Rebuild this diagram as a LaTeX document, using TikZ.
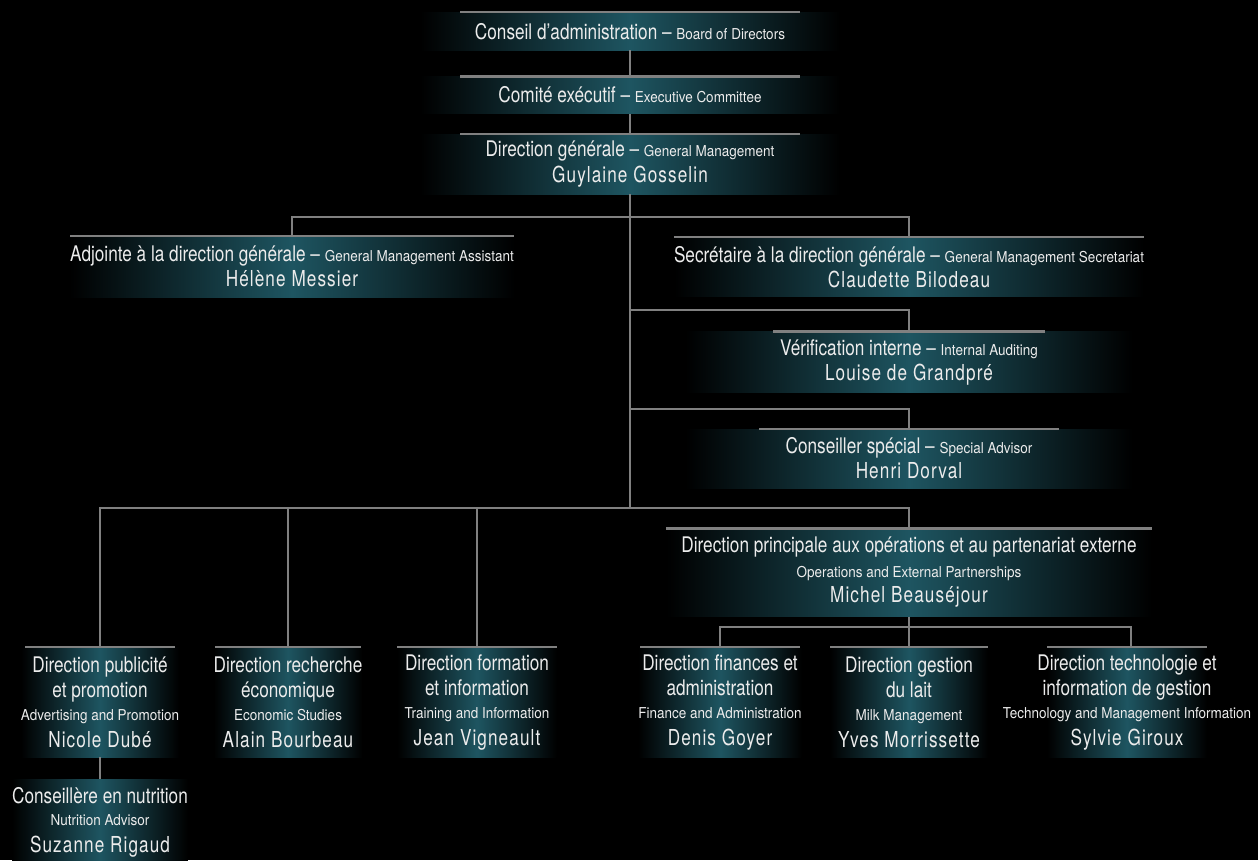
\documentclass[tikz,border=0pt]{standalone}
\usepackage{fontspec}
\usetikzlibrary{positioning}

\newfontfamily\orgfamily[FakeStretch=0.8]{TeX Gyre Heros}
\newfontfamily\subfamily[FakeStretch=0.9]{TeX Gyre Heros}
\newfontfamily\namefamily[FakeStretch=0.78,LetterSpace=5]{TeX Gyre Heros}
\newcommand{\engl}[1]{{\subfamily\fontsize{15}{25}\selectfont #1}}
\newcommand{\pname}[1]{{\namefamily\fontsize{22}{25}\selectfont #1}}

\definecolor{glow}{RGB}{30,85,97}
\definecolor{linegray}{RGB}{128,128,128}
\definecolor{ink}{RGB}{236,236,236}

\tikzset{
  unit/.style={rectangle, inner sep=0pt, align=center, text=ink,
    left color=black, right color=black, middle color=glow,
    font=\orgfamily\fontsize{21.5}{25}\selectfont},
  bar/.style={draw=linegray, line width=2.6pt},
  link/.style={draw=linegray, line width=2.4pt},
}

\begin{document}
\begin{tikzpicture}[x=1pt, y=1pt]
	\fill[black] (0,0) rectangle (1258,-860);
	\useasboundingbox (0,0) rectangle (1258,-860);

	% top of the chart
	\node[unit, anchor=north, minimum width=420pt, minimum height=38pt] (board) at (630,-12) {Conseil d’administration – \engl{Board of Directors}};
	\node[unit, minimum width=420pt, minimum height=37pt, below=26pt of board] (exec) {Comité exécutif – \engl{Executive Committee}};
	\node[unit, minimum width=420pt, minimum height=60pt, below=20pt of exec] (dg) {Direction générale – \engl{General Management}\\[1pt]\pname{Guylaine Gosselin}};

	% staff units
	\node[unit, anchor=north, minimum width=445pt, minimum height=61pt] (adj) at (292,-236) {Adjointe à la direction générale – \engl{General Management Assistant}\\\pname{Hélène Messier}};
	\node[unit, anchor=north, minimum width=470pt, minimum height=59pt] (sec) at (909,-237) {Secrétaire à la direction générale – \engl{General Management Secretariat}\\\pname{Claudette Bilodeau}};
	\node[unit, minimum width=447pt, minimum height=61pt, below=35pt of sec] (verif) {Vérification interne – \engl{Internal Auditing}\\\pname{Louise de Grandpré}};
	\node[unit, minimum width=447pt, minimum height=59pt, below=36pt of verif] (cons) {Conseiller spécial – \engl{Special Advisor}\\\pname{Henri Dorval}};
	\node[unit, minimum width=486pt, minimum height=88pt, below=40pt of cons] (ope) {Direction principale aux opérations et au partenariat externe\\\engl{Operations and External Partnerships}\\\pname{Michel Beauséjour}};

	% directions
	\node[unit, anchor=north, minimum width=150pt, minimum height=110pt] (pub) at (100,-647) {Direction publicité\\et promotion\\[-2pt]\engl{Advertising and Promotion}\\[2pt]\pname{Nicole Dubé}};
	\node[unit, anchor=north, minimum width=146pt, minimum height=110pt] (rech) at (288,-647) {Direction recherche\\économique\\[-2pt]\engl{Economic Studies}\\[2pt]\pname{Alain Bourbeau}};
	\node[unit, anchor=north, minimum width=159pt, minimum height=110pt] (form) at (477,-647) {Direction formation\\et information\\[-2pt]\engl{Training and Information}\\[2pt]\pname{Jean Vigneault}};
	\node[unit, anchor=north, minimum width=159pt, minimum height=110pt] (fin) at (720,-647) {Direction finances et\\administration\\[-2pt]\engl{Finance and Administration}\\[2pt]\pname{Denis Goyer}};
	\node[unit, anchor=north, minimum width=158pt, minimum height=110pt] (lait) at (909,-647) {Direction gestion\\du lait\\[-2pt]\engl{Milk Management}\\[2pt]\pname{Yves Morrissette}};
	\node[unit, anchor=north, minimum width=160pt, minimum height=110pt, inner xsep=-45pt] (tech) at (1127,-647) {Direction technologie et\\information de gestion\\[-2pt]\engl{Technology and Management Information}\\[2pt]\pname{Sylvie Giroux}};
	\node[unit, minimum width=170pt, minimum height=86pt, below=22pt of pub] (nutr) {Conseillère en nutrition\\[-3pt]\engl{Nutrition Advisor}\\[2pt]\pname{Suzanne Rigaud}};

	% bars on top of the boxes
	\foreach \n/\w in {board/170, exec/170, dg/170, adj/222, sec/235, verif/136, cons/150, ope/243, pub/75, rech/73, form/80, fin/80, lait/79, tech/80}
		\draw[bar] ([xshift=-\w pt]\n.north) -- ([xshift=\w pt]\n.north);

	% junctions
	\coordinate (j1) at (630,-217);
	\coordinate (j2) at (630,-310);
	\coordinate (j3) at (630,-409);
	\coordinate (j4) at (630,-508);
	\coordinate (j5) at (909,-627);

	\draw[link] (board) -- (exec);
	\draw[link] (exec) -- (dg);
	\draw[link] (dg.south) -- (j4);
	\draw[link] (adj.north) |- (j1) -| (sec.north);
	\draw[link] (j2) -| (verif.north);
	\draw[link] (j3) -| (cons.north);
	\draw[link] (pub.north) |- (j4) -| (ope.north);
	\draw[link] (rech.north) -- (rech.north |- j4);
	\draw[link] (form.north) -- (form.north |- j4);
	\draw[link] (ope.south) -- (j5);
	\draw[link] (fin.north) |- (j5) -| ([xshift=4pt]tech.north);
	\draw[link] (lait.north) -- (j5);
	\draw[link] (pub.south) -- (nutr.north);
\end{tikzpicture}
\end{document}
